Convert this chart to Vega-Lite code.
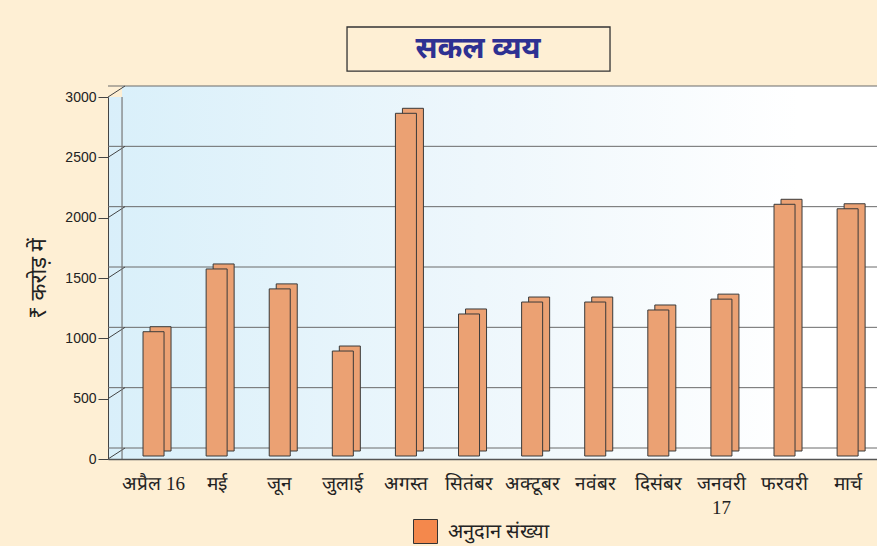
{
  "$schema": "https://vega.github.io/schema/vega-lite/v6.json",
  "background": "#FEEFD4",
  "padding": {"left": 27, "top": 26, "right": 0, "bottom": 0},
  "width": 804,
  "height": 362,
  "view": {
    "stroke": null,
    "fill": {
      "gradient": "linear", "x1": 0, "y1": 0, "x2": 1, "y2": 0,
      "stops": [
        {"offset": 0, "color": "#D9EFFA"},
        {"offset": 0.45, "color": "#EDF7FC"},
        {"offset": 0.85, "color": "#FFFFFF"}
      ]
    }
  },
  "datasets": {
    "bars": [
      {"month": "अप्रैल 16", "value": 1030, "series": "अनुदान संख्या"},
      {"month": "मई", "value": 1550, "series": "अनुदान संख्या"},
      {"month": "जून", "value": 1385, "series": "अनुदान संख्या"},
      {"month": "जुलाई", "value": 870, "series": "अनुदान संख्या"},
      {"month": "अगस्त", "value": 2840, "series": "अनुदान संख्या"},
      {"month": "सितंबर", "value": 1177, "series": "अनुदान संख्या"},
      {"month": "अक्टूबर", "value": 1276, "series": "अनुदान संख्या"},
      {"month": "नवंबर", "value": 1276, "series": "अनुदान संख्या"},
      {"month": "दिसंबर", "value": 1210, "series": "अनुदान संख्या"},
      {"month": "जनवरी 17", "value": 1300, "series": "अनुदान संख्या"},
      {"month": "फरवरी", "value": 2086, "series": "अनुदान संख्या"},
      {"month": "मार्च", "value": 2049, "series": "अनुदान संख्या"}
    ],
    "gridlines": [{"value": 0}, {"value": 500}, {"value": 1000}, {"value": 1500}, {"value": 2000}, {"value": 2500}, {"value": 3000}],
    "heading": [{"title": "सकल व्यय"}]
  },
  "config": {
    "font": "Liberation Sans",
    "axis": {"disable": false},
    "axisX": {"disable": false},
    "axisY": {"disable": false},
    "axisBand": {"disable": false},
    "axisQuantitative": {"disable": false}
  },
  "layer": [
    {
      "data": {"name": "heading"},
      "mark": {
        "type": "rect", "xOffset": -21, "x2Offset": 60, "yOffset": -11, "y2Offset": -11,
        "fill": {
          "gradient": "linear", "x1": 0, "y1": 0, "x2": 1, "y2": 0,
          "stops": [
            {"offset": 0, "color": "#DAF0FA"},
            {"offset": 0.45, "color": "#EEF7FC"},
            {"offset": 0.85, "color": "#FFFFFF"}
          ]
        }
      },
      "encoding": {
        "x": {
          "datum": "अप्रैल 16", "type": "nominal", "bandPosition": 0,
          "scale": {
            "domain": ["अप्रैल 16", "मई", "जून", "जुलाई", "अगस्त", "सितंबर", "अक्टूबर", "नवंबर", "दिसंबर", "जनवरी 17", "फरवरी", "मार्च"],
            "paddingInner": 0.667, "paddingOuter": 0.7045, "align": 0.394
          }
        },
        "x2": {"datum": "मार्च", "bandPosition": 1},
        "y": {"datum": 3000, "type": "quantitative", "scale": {"domain": [0, 3000], "nice": false}},
        "y2": {"datum": 0}
      }
    },
    {
      "data": {"name": "gridlines"},
      "mark": {"type": "rule", "color": "#6a6a6a", "strokeWidth": 1, "xOffset": 17, "yOffset": -11},
      "encoding": {
        "y": {"field": "value", "type": "quantitative"}
      }
    },
    {
      "data": {"name": "gridlines"},
      "mark": {"type": "rule", "color": "#444", "strokeWidth": 1, "xOffset": -35, "x2Offset": -18, "y2Offset": -11},
      "encoding": {
        "x": {"datum": "अप्रैल 16", "type": "nominal", "bandPosition": 0},
        "x2": {"datum": "अप्रैल 16", "bandPosition": 0},
        "y": {"field": "value", "type": "quantitative"},
        "y2": {"field": "value"}
      }
    },
    {
      "data": {"name": "gridlines"},
      "transform": [{"filter": "datum.value == 0"}],
      "mark": {"type": "rule", "color": "#777", "strokeWidth": 1.2, "xOffset": -21},
      "encoding": {
        "x": {"datum": "अप्रैल 16", "type": "nominal", "bandPosition": 0}
      }
    },
    {
      "data": {"name": "bars"},
      "mark": {"type": "bar", "fill": "#EBA173", "stroke": "#3a3a3a", "strokeWidth": 1, "xOffset": 7, "yOffset": -8},
      "encoding": {
        "x": {
          "field": "month", "type": "nominal", "sort": null,
          "scale": {
            "domain": ["अप्रैल 16", "मई", "जून", "जुलाई", "अगस्त", "सितंबर", "अक्टूबर", "नवंबर", "दिसंबर", "जनवरी 17", "फरवरी", "मार्च"],
            "paddingInner": 0.667, "paddingOuter": 0.7045, "align": 0.394
          },
          "axis": {
            "disable": false,
            "title": null, "ticks": false, "domainColor": "#555", "domainWidth": 1.5,
            "bandPosition": 0.5, "labelAlign": "center", "labelBaseline": "top",
            "labelFontSize": 19, "labelFont": "Liberation Serif", "labelAngle": 0,
            "labelColor": "#222", "labelPadding": 15, "labelOverlap": false, "labelLineHeight": 24,
            "labelExpr": "datum.label == 'जनवरी 17' ? ['जनवरी', '17'] : datum.label"
          }
        },
        "y": {
          "field": "value", "type": "quantitative",
          "scale": {"domain": [0, 3000], "nice": false},
          "axis": {
            "disable": false,
            "title": "₹ करोड़ में", "titleFontSize": 22, "titleFontWeight": "normal",
            "titleFont": "Noto Sans", "titlePadding": 14, "titleColor": "#222",
            "values": [0, 500, 1000, 1500, 2000, 2500, 3000], "format": "d",
            "grid": false, "tickSize": 10, "tickColor": "#444", "domainColor": "#444",
            "labelFontSize": 14, "labelPadding": 2, "labelColor": "#222"
          }
        }
      }
    },
    {
      "data": {"name": "bars"},
      "mark": {"type": "bar", "fill": "#EBA173", "stroke": "#3a3a3a", "strokeWidth": 1, "yOffset": -3},
      "encoding": {
        "x": {"field": "month", "type": "nominal", "sort": null},
        "y": {"field": "value", "type": "quantitative"}
      }
    },
    {
      "data": {"name": "bars"},
      "mark": {"type": "square", "size": 0, "opacity": 1, "filled": true},
      "encoding": {
        "x": {"field": "month", "type": "nominal", "sort": null},
        "y": {"field": "value", "type": "quantitative"},
        "color": {
          "field": "series", "type": "nominal",
          "scale": {"range": ["#F4884C"]},
          "legend": {
            "orient": "none", "legendX": 305, "legendY": 422, "title": null,
            "symbolType": "square", "symbolSize": 576, "symbolStrokeColor": "#333",
            "symbolStrokeWidth": 1, "symbolOpacity": 1, "labelFontSize": 20, "labelFont": "Liberation Serif",
            "labelColor": "#222", "labelOffset": 10
          }
        }
      }
    },
    {
      "data": {"name": "heading"},
      "mark": {"type": "rect", "fill": null, "stroke": "#333", "strokeWidth": 1.3, "xOffset": 14.7, "x2Offset": 25.3},
      "encoding": {
        "x": {"datum": "जुलाई", "type": "nominal", "bandPosition": 0},
        "x2": {"datum": "नवंबर", "bandPosition": 0},
        "y": {"datum": 3215, "type": "quantitative"},
        "y2": {"datum": 3580}
      }
    },
    {
      "data": {"name": "heading"},
      "mark": {"type": "text", "fontSize": 30, "fontWeight": "bold", "color": "#2E3192", "font": "Noto Sans", "xOffset": 9},
      "encoding": {
        "x": {"datum": "सितंबर", "type": "nominal", "bandPosition": 0.5},
        "y": {"datum": 3398, "type": "quantitative"},
        "text": {"field": "title", "type": "nominal"}
      }
    }
  ]
}
